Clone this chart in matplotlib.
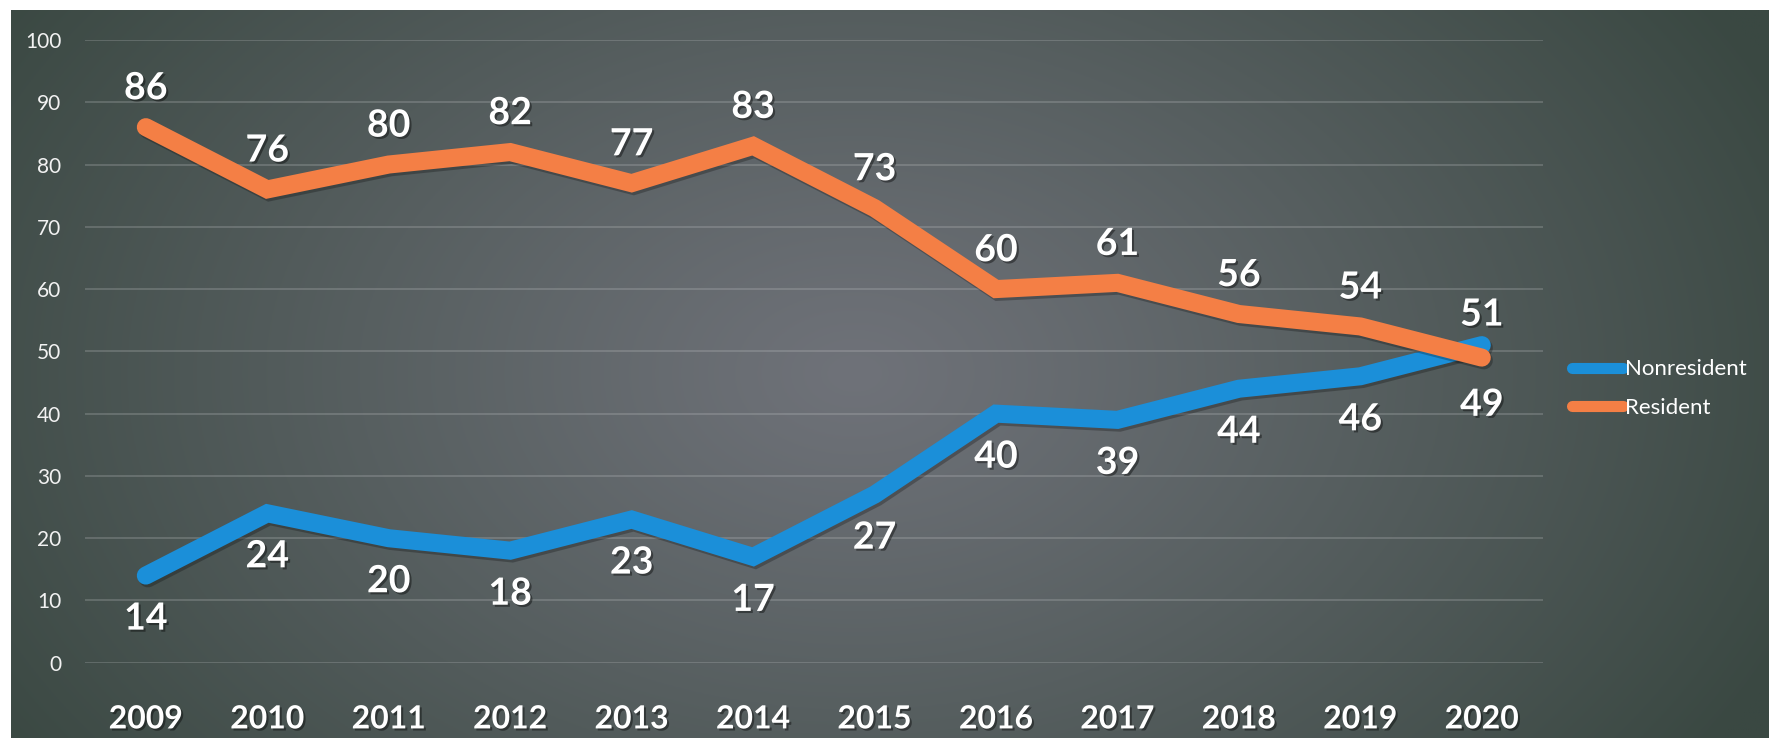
import numpy as np
import matplotlib.pyplot as plt
import matplotlib.patheffects as pe
from matplotlib.colors import to_rgb

plt.rcParams['font.family'] = ['Lato', 'DejaVu Sans']

years = ['2009', '2010', '2011', '2012', '2013', '2014',
         '2015', '2016', '2017', '2018', '2019', '2020']
nonresident = [14, 24, 20, 18, 23, 17, 27, 40, 39, 44, 46, 51]
resident = [86, 76, 80, 82, 77, 83, 73, 60, 61, 56, 54, 49]

BLUE = '#1b8fd9'
ORANGE = '#f47f45'

fig = plt.figure(figsize=(17.73, 7.54), dpi=100)
fig.patch.set_facecolor('white')

# scanned dark panel with lighter centre
bg = fig.add_axes([0.006, 0.021, 0.991, 0.966])
bg.set_axis_off()
h, w = 300, 700
yy, xx = np.mgrid[0:1:h * 1j, 0:1:w * 1j]
d = np.sqrt(((xx - 0.48) / 0.58) ** 2 + ((yy - 0.5) / 0.95) ** 2)
t = np.clip(d, 0, 1) ** 1.1
inner = np.array(to_rgb('#6f7279'))
outer = np.array(to_rgb('#3a4842'))
img = inner * (1 - t[..., None]) + outer * t[..., None]
bg.imshow(img, aspect='auto', extent=[0, 1, 0, 1])
bg.set_xlim(0, 1)
bg.set_ylim(0, 1)

ax = fig.add_axes([0.048, 0.121, 0.822, 0.826])
ax.patch.set_alpha(0)
x = np.arange(len(years))

shadow = [pe.SimpleLineShadow(offset=(1.5, -2), shadow_color='black', alpha=0.25), pe.Normal()]
ax.plot(x, nonresident, color=BLUE, lw=13, solid_capstyle='round',
        solid_joinstyle='miter', path_effects=shadow, label='Nonresident', zorder=3)
ax.plot(x, resident, color=ORANGE, lw=13, solid_capstyle='round',
        solid_joinstyle='miter', path_effects=shadow, label='Resident', zorder=4)

txt_fx = [pe.withSimplePatchShadow(offset=(1.5, -1.5), shadow_rgbFace='black', alpha=0.4)]
for i, (n, r) in enumerate(zip(nonresident, resident)):
    n_off, r_off = -31, 28
    if i == len(years) - 1:
        n_off, r_off = 22, -34
    ax.annotate(str(n), (i, n), xytext=(0, n_off), textcoords='offset points',
                ha='center', va='center', fontsize=27, fontweight='bold',
                color='white', zorder=6, path_effects=txt_fx)
    ax.annotate(str(r), (i, r), xytext=(0, r_off), textcoords='offset points',
                ha='center', va='center', fontsize=27, fontweight='bold',
                color='white', zorder=6, path_effects=txt_fx)

ax.set_xlim(-0.5, len(years) - 0.5)
ax.set_ylim(0, 100)
ax.set_yticks(range(0, 101, 10))
ax.set_xticks(x)
ax.set_xticklabels(years, fontsize=23, fontweight='bold', color='white')
for lab in ax.get_xticklabels():
    lab.set_path_effects(txt_fx)
ax.tick_params(axis='y', labelsize=15, colors='#f2f2f2', length=0, pad=17)
ax.tick_params(axis='x', length=0, pad=30)
ax.grid(axis='y', color='#c8cacc', alpha=0.3, lw=1.1)
ax.set_axisbelow(True)
for s in ax.spines.values():
    s.set_visible(False)

leg = ax.legend(loc='center left', bbox_to_anchor=(1.02, 0.44), frameon=False,
                fontsize=16, handlelength=2.3, handletextpad=0.1,
                labelspacing=0.85, borderaxespad=0, borderpad=0)
for line, text in zip(leg.get_lines(), leg.get_texts()):
    line.set_linewidth(8)
    line.set_solid_capstyle('round')
    line.set_path_effects([])
    text.set_color('white')

fig.savefig('out.png', dpi=100, facecolor='white')
